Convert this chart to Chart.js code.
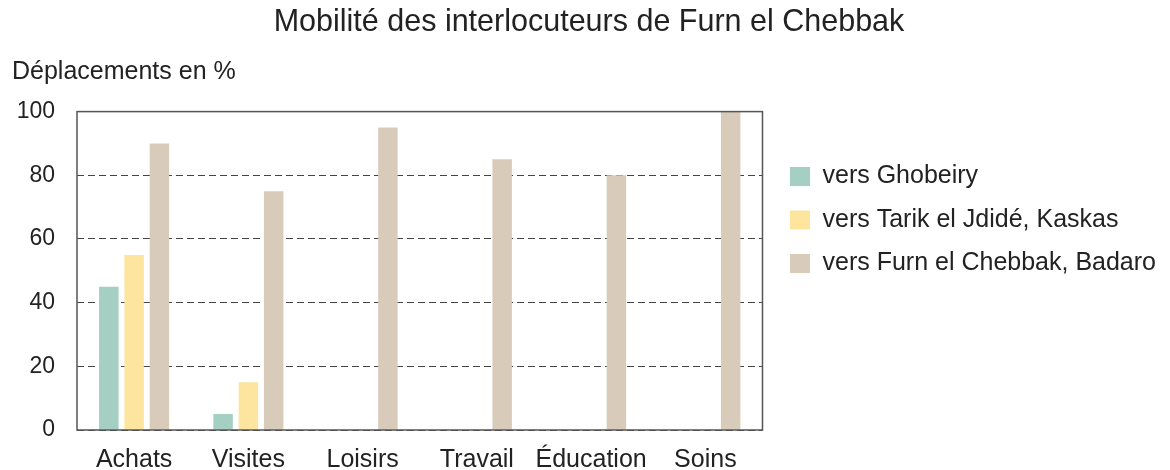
<!DOCTYPE html>
<html>
<head>
<meta charset="utf-8">
<script src="https://cdn.jsdelivr.net/npm/chart.js@4"></script>
<style>
  html, body { margin: 0; padding: 0; background: #fff; }
  #wrap { width: 1170px; height: 470px; }
</style>
</head>
<body>
<div id="wrap"><canvas id="mobChart"></canvas></div>
<script>
const categories = ["Achats", "Visites", "Loisirs", "Travail", "Éducation", "Soins"];
const ghobeiry = [45, 5, 0, 0, 0, 0];
const tarikKaskas = [55, 15, 0, 0, 0, 0];
const furnBadaro = [90, 75, 95, 85, 80, 100];
const yTicks = [0, 20, 40, 60, 80, 100];

const FONT = "'Liberation Sans', Arial, Helvetica, sans-serif";
const INK = "#222";

// frame around the plot area (top / right sides too)
const frame = {
  id: "frame",
  afterDatasetsDraw(chart) {
    const a = chart.chartArea;
    const ctx = chart.ctx;
    ctx.save();
    ctx.strokeStyle = "#555";
    ctx.lineWidth = 1.5;
    ctx.setLineDash([]);
    ctx.strokeRect(a.left, a.top, a.right - a.left, a.bottom - a.top);
    ctx.restore();
  }
};

const ctx = document.getElementById("mobChart").getContext("2d");
new Chart(ctx, {
  type: "bar",
  data: {
    labels: categories,
    datasets: [
      { label: "vers Ghobeiry", data: ghobeiry, backgroundColor: "#a4cfc2" },
      { label: "vers Tarik el Jdidé, Kaskas", data: tarikKaskas, backgroundColor: "#fde49f" },
      { label: "vers Furn el Chebbak, Badaro", data: furnBadaro, backgroundColor: "#d9cbb9" }
    ]
  },
  options: {
    responsive: true,
    maintainAspectRatio: false,
    animation: false,
    categoryPercentage: 0.664,
    barPercentage: 0.77,
    layout: { padding: { left: 12, right: 4, top: 0, bottom: 0 } },
    plugins: {
      title: {
        display: true,
        text: "Mobilité des interlocuteurs de Furn el Chebbak",
        color: INK,
        font: { family: FONT, size: 30.5, weight: "normal" },
        padding: { top: 4, bottom: 10 }
      },
      subtitle: {
        display: true,
        text: "Déplacements en %",
        align: "start",
        color: INK,
        font: { family: FONT, size: 25, weight: "normal" },
        padding: { top: 7, bottom: 24 }
      },
      legend: {
        position: "right",
        align: "start",
        fullSize: false,
        maxWidth: 500,
        title: { display: true, text: " ", font: { size: 12 }, padding: { top: 19.5, bottom: 0 } },
        labels: {
          color: INK,
          font: { family: FONT, size: 25 },
          boxWidth: 20,
          boxHeight: 19,
          padding: 18.5
        }
      },
      tooltip: { enabled: false }
    },
    scales: {
      x: {
        afterFit: (axis) => { axis.height = 40; },
        grid: { display: false, drawTicks: false },
        border: { display: false },
        ticks: {
          color: INK,
          font: { family: FONT, size: 25 },
          padding: 15,
          maxRotation: 0,
          minRotation: 0,
          autoSkip: false
        }
      },
      y: {
        min: 0,
        max: 100,
        afterBuildTicks: (axis) => { axis.ticks = yTicks.map(v => ({ value: v })); },
        afterFit: (axis) => { axis.width = 65; },
        grid: { color: "#444", lineWidth: 1, drawTicks: false },
        border: { display: false, dash: [7, 4] },
        ticks: { color: INK, font: { family: FONT, size: 23 }, padding: 22 }
      },
      // empty right axis: only keeps a small gap between the plot and the legend
      gap: {
        type: "linear",
        position: "right",
        display: true,
        grid: { display: false, drawTicks: false },
        border: { display: false },
        ticks: { display: false },
        afterFit: (axis) => { axis.width = 9; }
      }
    }
  },
  plugins: [frame]
});
</script>
</body>
</html>
